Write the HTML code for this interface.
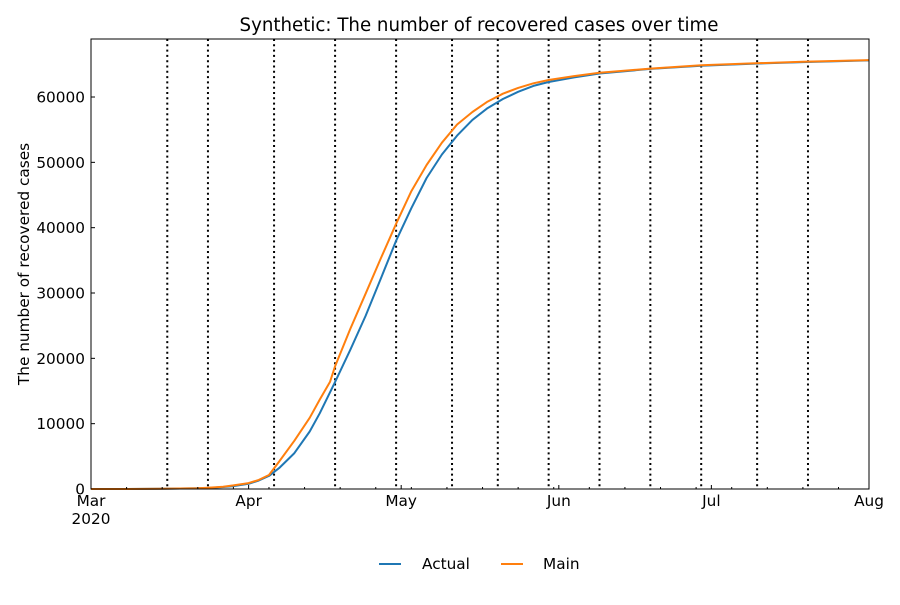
<!DOCTYPE html>
<html><head><meta charset="utf-8"><style>
body{margin:0;background:#fff;font-family:"Liberation Sans","DejaVu Sans",sans-serif}
svg text{font-family:"DejaVu Sans","Liberation Sans",sans-serif;fill:#000}
</style></head><body>
<svg id="chart" width="900" height="600">
<rect width="900" height="600" fill="#fff"/>
<text x="479" y="31" font-size="18.2" text-anchor="middle">Synthetic: The number of recovered cases over time</text>
<g id="grid"></g><g id="series"></g><g id="axes"></g>
<text transform="translate(29,264) rotate(-90)" font-size="15.3" text-anchor="middle">The number of recovered cases</text>
<g>
<line x1="379" y1="564" x2="401" y2="564" stroke="#1f77b4" stroke-width="2"/>
<text x="422" y="569" font-size="15.3">Actual</text>
<line x1="501" y1="564" x2="523" y2="564" stroke="#ff7f0e" stroke-width="2"/>
<text x="543" y="569" font-size="15.3">Main</text>
</g>
</svg>
<script>
const days=[0,7,14,21,23,26,28,31,33,35,37,40,43,45,48,51,54,57,60,63,66,69,72,75,78,81,84,87,90,95,100,110,120,130,140,153];
const actualValues=[0,0,50,100,150,300,450,800,1300,2000,3200,5500,8800,11600,16400,21300,26500,32200,38000,43000,47600,51200,54100,56500,58300,59700,60800,61700,62300,63000,63600,64300,64800,65100,65350,65600];
const mainDays=[0,7,14,21,23,26,28,31,33,35,37,40,43,45,47,48,51,54,57,60,63,66,69,72,75,78,81,84,87,90,95,100,110,120,130,140,153];
const mainValues=[0,0,50,100,200,350,550,900,1400,2150,4200,7400,10900,13700,16400,18800,24500,29900,35300,40600,45600,49600,53000,55800,57700,59300,60500,61400,62100,62600,63200,63700,64350,64850,65150,65400,65650];
const eventDays=[15,23,36,48,60,71,80,90,100,110,120,131,141];
const monthDays=[0,31,61,92,122,153];
const monthLabels=["Mar","Apr","May","Jun","Jul","Aug"];
const yTicks=[0,10000,20000,30000,40000,50000,60000];
const X0=91,X1=869,Y0=489,Y1=39,DMAX=153,VMAX=68880;
const xs=d=>X0+(X1-X0)*d/DMAX, ys=v=>Y0-(Y0-Y1)*v/VMAX;
const NS="http://www.w3.org/2000/svg";
function mk(t,a,p){const e=document.createElementNS(NS,t);for(const k in a)e.setAttribute(k,a[k]);p.appendChild(e);return e;}
const grid=document.getElementById('grid'),ser=document.getElementById('series'),ax=document.getElementById('axes');
eventDays.forEach(d=>{const l=mk('line',{x1:xs(d),x2:xs(d),y1:Y1,y2:Y0,stroke:'#000','stroke-width':2,'stroke-dasharray':'2,3.3'},grid);

});
function path(dd,vv,c,name){const p=mk('path',{d:dd.map((d,i)=>(i?'L':'M')+xs(d).toFixed(1)+','+ys(vv[i]).toFixed(1)).join(''),fill:'none',stroke:c,'stroke-width':2,'stroke-linejoin':'round'},ser);

}
path(days,actualValues,'#1f77b4','actual-line');
path(mainDays,mainValues,'#ff7f0e','main-line');
const fr=mk('rect',{x:X0,y:Y1,width:X1-X0,height:Y0-Y1,fill:'none',stroke:'#000','stroke-width':1},ax);


yTicks.forEach(v=>{const y=ys(v);mk('line',{x1:X0,x2:X0+4,y1:y,y2:y,stroke:'#000'},ax);
const t=mk('text',{x:X0-6,y:y+5.5,'font-size':15.3,'text-anchor':'end'},ax);t.textContent=v;

});
for(let d=0;d<=DMAX;d+=7){mk('line',{x1:xs(d),x2:xs(d),y1:Y0,y2:Y0-2,stroke:'#000'},ax);}
monthDays.forEach((d,i)=>{mk('line',{x1:xs(d),x2:xs(d),y1:Y0,y2:Y0-4,stroke:'#000'},ax);
const t=mk('text',{x:xs(d),y:506,'font-size':15.3,'text-anchor':'middle'},ax);t.textContent=monthLabels[i];

});
const yr=mk('text',{x:xs(0),y:524,'font-size':15.3,'text-anchor':'middle'},ax);yr.textContent='2020';


</script>
</body></html>
